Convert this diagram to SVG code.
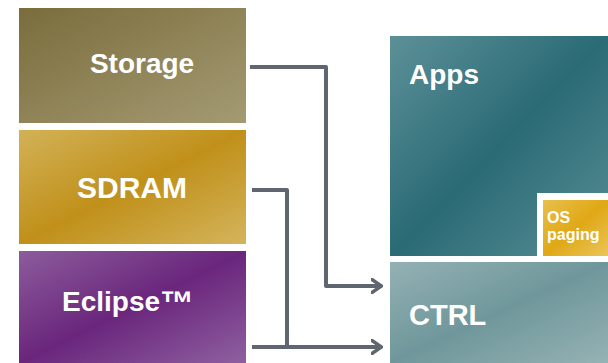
<svg xmlns="http://www.w3.org/2000/svg" width="608" height="363" viewBox="0 0 608 363">
<defs>
<linearGradient id="gStorage" x1="0" y1="0" x2="1" y2="1">
<stop offset="0" stop-color="#7a6d3c"/><stop offset="1" stop-color="#a49a73"/>
</linearGradient>
<linearGradient id="gSdram" x1="0" y1="0" x2="1" y2="1">
<stop offset="0" stop-color="#d2b257"/><stop offset="0.5" stop-color="#c0901a"/><stop offset="1" stop-color="#d4b45c"/>
</linearGradient>
<linearGradient id="gEclipse" x1="0" y1="0" x2="1" y2="1">
<stop offset="0" stop-color="#8c5c9c"/><stop offset="0.5" stop-color="#6a267c"/><stop offset="1" stop-color="#8e60a0"/>
</linearGradient>
<linearGradient id="gApps" x1="0" y1="0" x2="1" y2="1">
<stop offset="0" stop-color="#5d9098"/><stop offset="0.5" stop-color="#2a6b76"/><stop offset="1" stop-color="#5a8e96"/>
</linearGradient>
<linearGradient id="gCtrl" x1="0" y1="0" x2="1" y2="1">
<stop offset="0" stop-color="#94b1b4"/><stop offset="0.5" stop-color="#6f979b"/><stop offset="1" stop-color="#96b2b4"/>
</linearGradient>
<linearGradient id="gOs" x1="0" y1="0" x2="1" y2="1">
<stop offset="0" stop-color="#e8c04c"/><stop offset="0.5" stop-color="#e0a816"/><stop offset="1" stop-color="#eac45a"/>
</linearGradient>
<marker id="arr" markerWidth="12" markerHeight="16" viewBox="0 0 12 16" refX="11" refY="8" orient="auto" markerUnits="userSpaceOnUse">
<path d="M0 0.8 L10.5 8 L0 15.2" fill="none" stroke="#5f6670" stroke-width="3.5" stroke-linecap="round" stroke-linejoin="miter"/>
</marker>
<style>
.lbl{font-family:"Liberation Sans",Arial,sans-serif;font-weight:bold;fill:#ffffff}
.conn{fill:none;stroke:#5f6670;stroke-width:4;stroke-linejoin:round}
</style>
</defs>
<rect width="608" height="363" fill="#ffffff"/>
<g id="storage">
<rect x="19" y="8" width="227" height="115" fill="url(#gStorage)"/>
<text class="lbl" x="142" y="73" font-size="28" text-anchor="middle">Storage</text>
</g>
<g id="sdram">
<rect x="19" y="130" width="227" height="114" fill="url(#gSdram)"/>
<text class="lbl" x="132" y="198" font-size="30" text-anchor="middle">SDRAM</text>
</g>
<g id="eclipse">
<rect x="19" y="251" width="227" height="112" fill="url(#gEclipse)"/>
<text class="lbl" x="62" y="311" font-size="28">Eclipse<tspan font-size="34" dy="4">™</tspan></text>
</g>
<g id="apps">
<rect x="390" y="36" width="218" height="220" fill="url(#gApps)"/>
<text class="lbl" x="409" y="84" font-size="28">Apps</text>
</g>
<g id="os-paging">
<rect x="537" y="193" width="71" height="69" fill="#ffffff"/>
<rect x="543" y="200" width="65" height="56" fill="url(#gOs)"/>
<text class="lbl" font-size="16"><tspan x="547" y="223">OS</tspan><tspan x="547" y="240">paging</tspan></text>
</g>
<g id="ctrl">
<rect x="390" y="262" width="218" height="101" fill="url(#gCtrl)"/>
<text class="lbl" x="409" y="325" font-size="29">CTRL</text>
</g>
<g id="connectors">
<path class="conn" d="M250 67 H326 V286 H382" marker-end="url(#arr)"/>
<path class="conn" d="M252 190 H287 V347"/>
<path class="conn" d="M252 347 H382" marker-end="url(#arr)"/>
</g>
</svg>
